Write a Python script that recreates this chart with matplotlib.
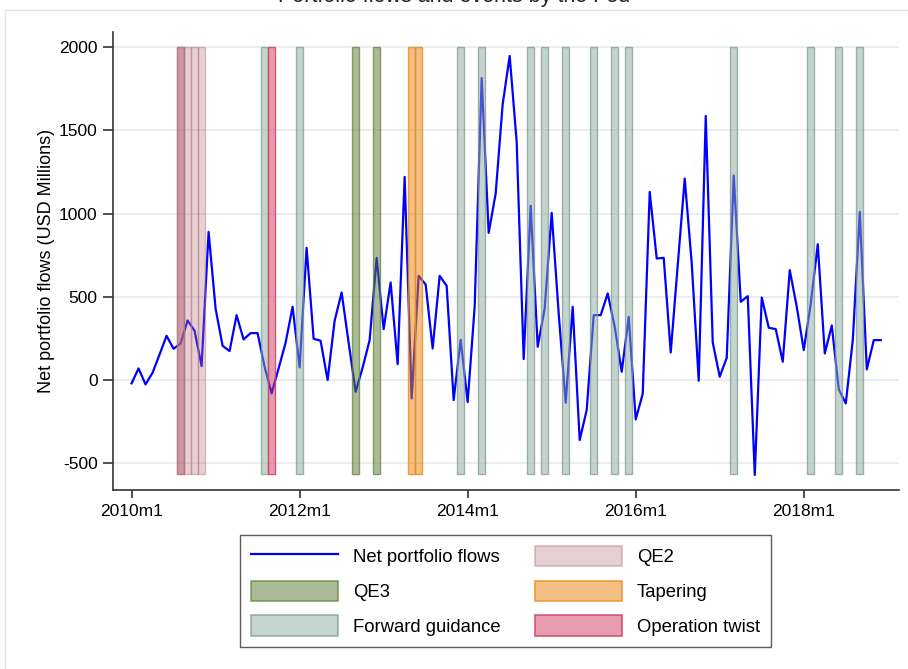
from __future__ import annotations

from pathlib import Path

import matplotlib

matplotlib.use("Agg")

import matplotlib.pyplot as plt  # noqa: E402
from matplotlib.lines import Line2D  # noqa: E402
from matplotlib.patches import Patch  # noqa: E402

OUTPUT_PATH = Path("out.png")

# Monthly net portfolio flows, 2010m1 .. 2018m12 (USD millions)
flows = [
    -20, 70, -26, 44, 154, 266, 188, 220, 358, 296, 84, 890,
    430, 206, 174, 390, 244, 282, 282, 80, -80, 70, 225, 440,
    76, 794, 248, 236, 0, 356, 526, 225, -70, 75, 240, 734,
    306, 586, 95, 1220, -110, 626, 574, 190, 626, 566, -120, 242,
    -132, 440, 1814, 884, 1120, 1656, 1946, 1430, 126, 1046, 200, 430,
    1004, 400, -136, 440, -360, -180, 390, 390, 520, 320, 50, 380,
    -236, -82, 1130, 730, 734, 166, 690, 1210, 700, -4, 1586, 226,
    20, 134, 1228, 470, 504, -570, 496, 314, 306, 110, 660, 440,
    180, 460, 816, 160, 328, -56, -140, 240, 1010, 64, 240, 240,
]
months = list(range(len(flows)))

# Event months (index from 2010m1); repeated months = several announcements
qe2_months = [7, 7, 7, 8, 9, 10]
qe3_months = [32, 35]
fg_months = [19, 24, 47, 50, 57, 59, 62, 66, 69, 71, 86, 97, 101, 104]
tapering_months = [40, 41]
twist_months = [20]

event_low, event_high = -565, 2000

tick_months = [0, 24, 48, 72, 96]
tick_labels = ["2010m1", "2012m1", "2014m1", "2016m1", "2018m1"]
y_ticks = [-500, 0, 500, 1000, 1500, 2000]

# (face rgba, edge rgba)
STYLES = {
    "QE2": ((0.71, 0.43, 0.47, 0.32), (0.70, 0.45, 0.50, 0.45)),
    "QE3": ((0.35, 0.47, 0.20, 0.50), (0.38, 0.52, 0.22, 0.75)),
    "Tapering": ((0.90, 0.51, 0.04, 0.50), (0.92, 0.55, 0.10, 0.80)),
    "Forward guidance": ((0.55, 0.67, 0.63, 0.50), (0.48, 0.60, 0.55, 0.70)),
    "Operation twist": ((0.82, 0.24, 0.39, 0.50), (0.82, 0.25, 0.40, 0.85)),
}

plt.rcParams["font.family"] = ["Liberation Sans", "DejaVu Sans"]


def draw_events(ax, event_months, name):
    face, edge = STYLES[name]
    ax.bar(
        event_months,
        event_high - event_low,
        bottom=event_low,
        width=1.0,
        color=face,
        edgecolor=edge,
        linewidth=1.0,
        zorder=3,
    )


def main() -> None:
    fig = plt.figure(figsize=(9.08, 6.69), dpi=100)
    ax = fig.add_axes([113 / 908, 1 - 490 / 669, 786 / 908, 458 / 669])

    ax.plot(months, flows, color="#0000ff", linewidth=1.6, zorder=2)

    draw_events(ax, qe2_months, "QE2")
    draw_events(ax, qe3_months, "QE3")
    draw_events(ax, fg_months, "Forward guidance")
    draw_events(ax, tapering_months, "Tapering")
    draw_events(ax, twist_months, "Operation twist")

    ax.set_xlim(-2.65, 109.6)
    ax.set_ylim(-660, 2090)
    ax.set_xticks(tick_months, tick_labels)
    ax.set_yticks(y_ticks, [str(v) for v in y_ticks])
    ax.tick_params(axis="both", labelsize=12.5, colors="#222222", labelcolor="black")
    ax.tick_params(axis="y", length=7, width=1.1, pad=4)
    ax.tick_params(axis="x", length=6, width=1.1, pad=4)
    ax.grid(axis="y", color="#e8eef1", linewidth=1.4, zorder=0)
    ax.set_axisbelow(True)
    for side in ("top", "right"):
        ax.spines[side].set_visible(False)
    for side in ("left", "bottom"):
        ax.spines[side].set_color("#333333")
        ax.spines[side].set_linewidth(1.2)
    ax.set_ylabel("Net portfolio flows (USD Millions)", fontsize=13, labelpad=3)

    handles = [Line2D([], [], color="#0000ff", linewidth=1.6)]
    labels = ["Net portfolio flows"]
    for name in ["QE3", "Forward guidance", "QE2", "Tapering", "Operation twist"]:
        face, edge = STYLES[name]
        handles.append(Patch(facecolor=face, edgecolor=edge, linewidth=1.2))
        labels.append(name)

    leg = fig.legend(
        handles,
        labels,
        ncol=2,
        loc="upper left",
        bbox_to_anchor=(240 / 908, 1 - 535 / 669),
        borderaxespad=0,
        fontsize=13.3,
        frameon=True,
        fancybox=False,
        handlelength=4.7,
        handleheight=1.3,
        handletextpad=0.8,
        labelspacing=0.78,
        columnspacing=1.9,
        borderpad=0.6,
    )
    leg.get_frame().set_edgecolor("#333333")
    leg.get_frame().set_linewidth(1.0)

    # clipped title and outer graph frame
    fig.text(0.5, 1 - 2 / 669, "Portfolio flows and events by the Fed",
             ha="center", va="baseline", fontsize=15.5, color="#222222")
    fig.add_artist(Line2D([5 / 908, 1], [1 - 10 / 669, 1 - 10 / 669],
                          color="#dfe7ea", linewidth=1.0))
    fig.add_artist(Line2D([5 / 908, 5 / 908], [0, 1 - 10 / 669],
                          color="#dfe7ea", linewidth=1.0))

    fig.savefig(OUTPUT_PATH, dpi=100)
    plt.close(fig)


if __name__ == "__main__":
    main()
